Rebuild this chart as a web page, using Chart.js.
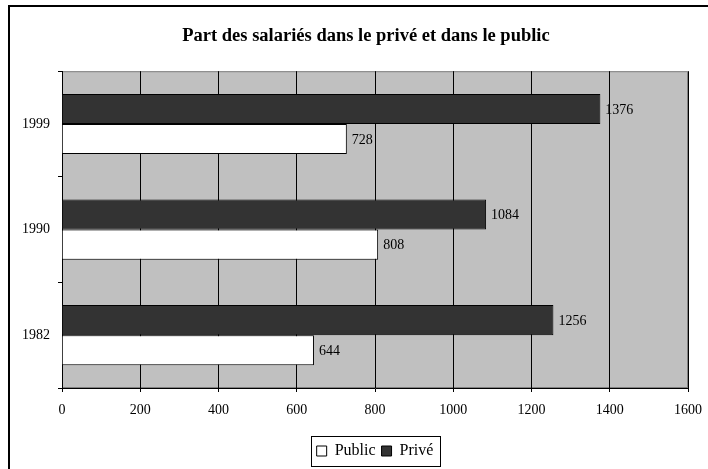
<!DOCTYPE html>
<html>
<head>
<meta charset="utf-8">
<script src="https://cdn.jsdelivr.net/npm/chart.js@4/dist/chart.umd.min.js"></script>
<style>
  html, body { margin: 0; padding: 0; background: #fff; }
  #wrap { width: 708px; height: 469px; }
</style>
</head>
<body>
<div id="wrap"><canvas id="graficoSalaries" width="708" height="469"></canvas></div>
<script>
// donnees
const annees = ['1982', '1990', '1999'];
const prive = [1256, 1084, 1376];
const public_ = [644, 808, 728];
const titre = 'Part des salariés dans le privé et dans le public';

document.addEventListener("DOMContentLoaded", function () {

    Chart.defaults.color = '#000';
    Chart.defaults.font.family = '"Liberation Serif", "Times New Roman", serif';

    // fond gris de la zone de tracé + cadre extérieur
    const fond = {
        id: 'fond',
        afterLayout(chart) {
            // titre centré un peu à droite, comme dans l'original
            if (chart.titleBlock) {
                chart.titleBlock.left = 44;
                chart.titleBlock.right = 688;
            }
        },
        beforeDraw(chart) {
            const c = chart.ctx, a = chart.chartArea;
            c.save();
            c.fillStyle = '#fff';
            c.fillRect(0, 0, chart.width, chart.height);
            c.fillStyle = '#C0C0C0';
            c.fillRect(a.left, a.top, a.right - a.left, a.bottom - a.top);
            c.strokeStyle = '#808080';
            c.lineWidth = 1;
            c.strokeRect(a.left + 0.5, a.top + 0.5, a.right - a.left - 1, a.bottom - a.top - 1);
            c.strokeStyle = '#000';
            c.lineWidth = 2;
            c.beginPath();
            c.moveTo(9, chart.height);
            c.lineTo(9, 6);
            c.lineTo(chart.width, 6);
            c.stroke();
            c.restore();
        }
    };

    // valeurs au bout des barres
    const etiquettes = {
        id: 'etiquettes',
        afterDatasetsDraw(chart) {
            const c = chart.ctx;
            c.save();
            c.font = '14px "Liberation Serif", serif';
            c.fillStyle = '#000';
            c.textBaseline = 'middle';
            c.textAlign = 'left';
            chart.data.datasets.forEach(function (ds, i) {
                chart.getDatasetMeta(i).data.forEach(function (bar, j) {
                    c.fillText(ds.data[j], bar.x + 5, bar.y + 1);
                });
            });
            c.restore();
        }
    };

    // cadre autour de la légende
    const cadreLegende = {
        id: 'cadreLegende',
        afterDraw(chart) {
            const boxes = chart.legend && chart.legend.legendHitBoxes;
            if (!boxes || !boxes.length) return;
            let l = Infinity, r = -Infinity, t = Infinity, b = -Infinity;
            boxes.forEach(function (h) {
                l = Math.min(l, h.left); r = Math.max(r, h.left + h.width);
                t = Math.min(t, h.top); b = Math.max(b, h.top + h.height);
            });
            const c = chart.ctx;
            c.save();
            c.strokeStyle = '#000';
            c.lineWidth = 1;
            c.strokeRect(Math.round(l - 6) + 0.5, Math.round(t - 7) + 0.5, Math.round(r - l + 12), Math.round(b - t + 14));
            c.restore();
        }
    };

    const ctx = document.getElementById('graficoSalaries');

    new Chart(ctx, {
        type: 'bar',
        data: {
            labels: annees,
            datasets: [{
                label: 'Privé',
                data: prive,
                backgroundColor: '#333333',
                borderColor: '#000',
                borderWidth: 1,
                categoryPercentage: 0.57,
                barPercentage: 1.0
            }, {
                label: 'Public',
                data: public_,
                backgroundColor: '#ffffff',
                borderColor: '#000',
                borderWidth: 1,
                categoryPercentage: 0.57,
                barPercentage: 1.0
            }]
        },
        options: {
            indexAxis: 'y',
            responsive: false,
            animation: false,
            layout: {
                padding: { left: 18, right: 20, top: 0, bottom: 0 }
            },
            scales: {
                x: {
                    min: 0,
                    max: 1600,
                    ticks: {
                        stepSize: 200,
                        padding: 10,
                        font: { size: 14 },
                        callback: function (v) { return String(v); }
                    },
                    grid: { color: '#000', tickLength: 4, lineWidth: 1 },
                    border: { color: '#000', width: 1 },
                    afterFit(scale) {
                        scale.height = 49;
                        scale.paddingLeft = 0;
                        scale.paddingRight = 0;
                    }
                },
                y: {
                    reverse: true,
                    ticks: { padding: 8, font: { size: 14 } },
                    grid: { drawOnChartArea: false, color: '#000', tickLength: 4 },
                    border: { color: '#000', width: 1 },
                    afterFit(scale) { scale.width = 44; }
                }
            },
            plugins: {
                title: {
                    display: true,
                    text: titre,
                    font: { size: 18.5, weight: 'bold' },
                    padding: { top: 25, bottom: 24 }
                },
                legend: {
                    position: 'bottom',
                    fullSize: false,
                    reverse: true,
                    labels: {
                        boxWidth: 10,
                        boxHeight: 10,
                        padding: 6,
                        font: { size: 16 }
                    }
                },
                tooltip: { enabled: false }
            }
        },
        plugins: [fond, etiquettes, cadreLegende]
    });

});
</script>
</body>
</html>
